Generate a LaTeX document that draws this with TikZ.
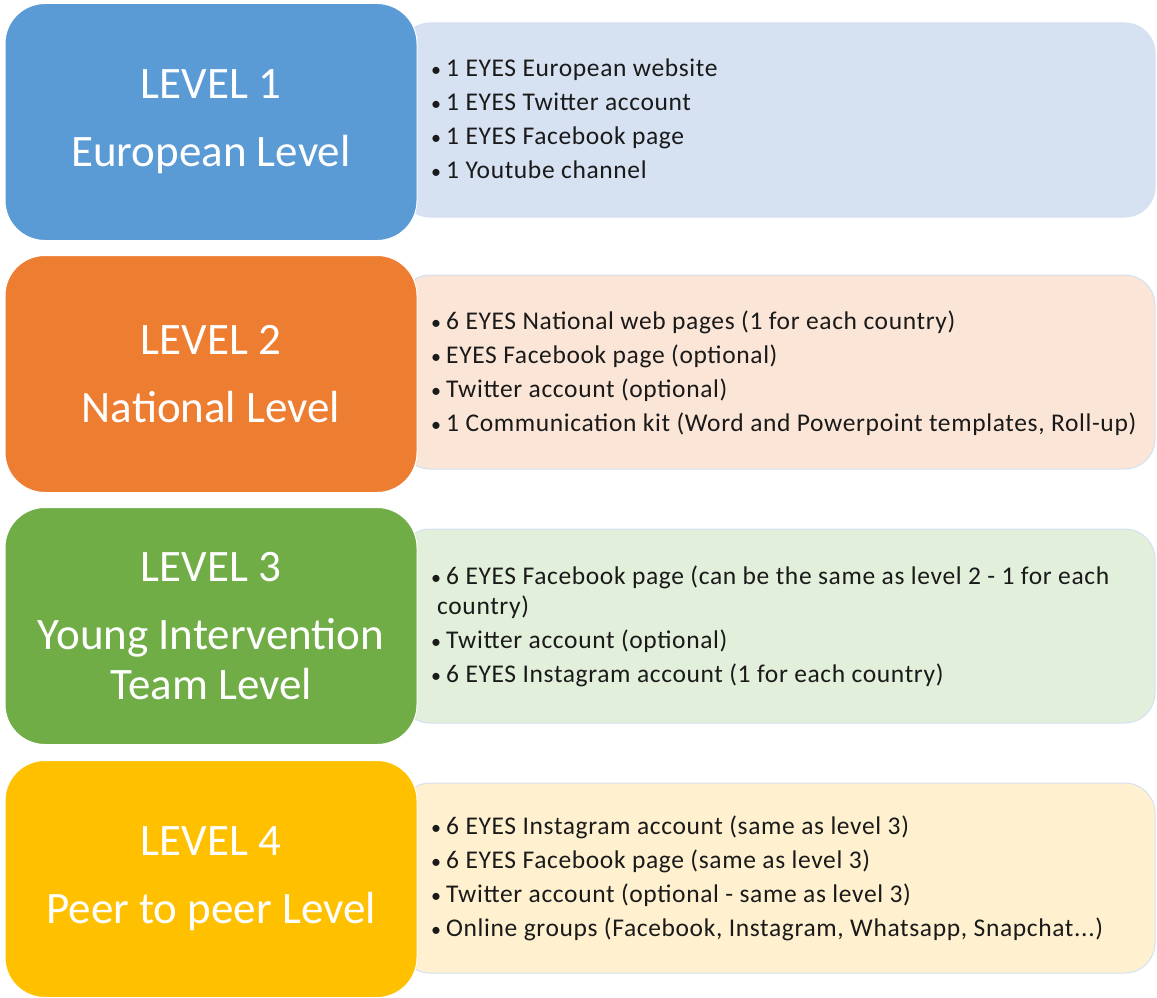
\documentclass[tikz,border=0pt]{standalone}
\usepackage{fontspec}
\setmainfont{Carlito}
\newfontfamily\itemfont[LetterSpace=2.5]{Carlito}
\definecolor{cBlue}{HTML}{5B9BD5}
\definecolor{cBlueL}{HTML}{D6E1F1}
\definecolor{cOrange}{HTML}{ED7D31}
\definecolor{cOrangeL}{HTML}{FBE5D7}
\definecolor{cGreen}{HTML}{70AD47}
\definecolor{cGreenL}{HTML}{E2EFDA}
\definecolor{cGold}{HTML}{FFC000}
\definecolor{cGoldL}{HTML}{FFF1CF}
\definecolor{cEdge}{RGB}{212,224,242}
\definecolor{cText}{HTML}{1A1A1A}
\newcommand{\bul}{\makebox[15pt][l]{\fontsize{20}{20}\selectfont•}}
\begin{document}
\begin{tikzpicture}[x=1pt,y=-1pt,
  levelbox/.style={rectangle, rounded corners=40pt, minimum width=412pt, minimum height=237pt,
    draw=white, line width=1pt, text=white, align=center, inner sep=0pt,
    font=\fontsize{45}{50}\selectfont},
  detailbox/.style={rectangle, rounded corners=30pt, minimum width=755pt, minimum height=194pt,
    draw=cEdge, line width=1pt, inner sep=0pt},
  itemtext/.style={anchor=west, align=left, text=cText, inner sep=0pt,
    font=\itemfont\fontsize{25.5}{34}\selectfont}]
\useasboundingbox (0,0) rectangle (1157,998);

% detail boxes (behind)
\node[detailbox, fill=cBlueL]   (d1) at (777.5,120) {};
\node[detailbox, fill=cOrangeL] (d2) at (777.5,372) {};
\node[detailbox, fill=cGreenL]  (d3) at (777.5,626) {};
\node[detailbox, fill=cGoldL, minimum height=190pt] (d4) at (777.5,878) {};

% level boxes
\node[levelbox, fill=cBlue]   (l1) at (211,122) {LEVEL 1\\[18pt]European Level};
\node[levelbox, fill=cOrange] (l2) at (211,374) {LEVEL 2\\[18pt]National Level};
\node[levelbox, fill=cGreen]  (l3) at (211,626) {LEVEL 3\\[18pt]Young Intervention\\Team Level};
\node[levelbox, fill=cGold]   (l4) at (211,879) {LEVEL 4\\[18pt]Peer to peer Level};

% item texts
\node[itemtext] (t1) at (431,119) {\bul 1 EYES European website\\
\bul 1 EYES Twitter account\\
\bul 1 EYES Facebook page\\
\bul 1 Youtube channel};
\node[itemtext] (t2) at (431,373) {\bul 6 EYES National web pages (1 for each country)\\
\bul EYES Facebook page (optional)\\
\bul Twitter account (optional)\\
\bul 1 Communication kit (Word and Powerpoint templates, Roll-up)};
\node[itemtext] (t3) at (431,626) {\bul 6 EYES Facebook page (can be the same as level 2 - 1 for each\\[-4pt]
\hspace*{6pt}country)\\
\bul Twitter account (optional)\\
\bul 6 EYES Instagram account (1 for each country)};
\node[itemtext] (t4) at (431,878) {\bul 6 EYES Instagram account (same as level 3)\\
\bul 6 EYES Facebook page (same as level 3)\\
\bul Twitter account (optional - same as level 3)\\
\bul Online groups (Facebook, Instagram, Whatsapp, Snapchat...)};
\end{tikzpicture}
\end{document}
